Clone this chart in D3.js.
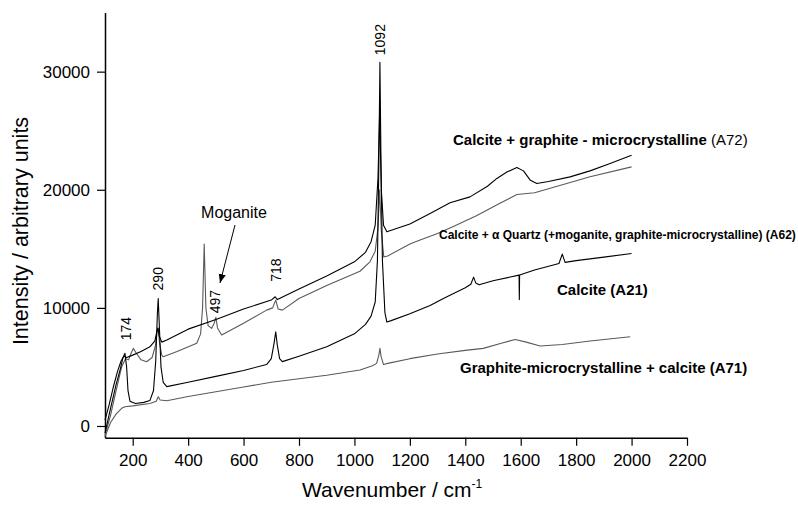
<!DOCTYPE html>
<html>
<head>
<meta charset="utf-8">
<script src="https://d3js.org/d3.v7.min.js"></script>
<style>
body { margin: 0; background: white; }
text { font-family: "Liberation Sans", Arial, sans-serif; }
</style>
</head>
<body>
<div id="container"></div>
<script>
// spectra: [wavenumber, intensity]
let a72 = [
  [100, 500], [115, 1800], [130, 3300], [145, 4600], [158, 5500], [168, 5900], [178, 5800],
  [200, 6000], [230, 6300], [262, 6700], [280, 7200], [287, 8000], [291, 8300], [296, 7600],
  [305, 7100], [323, 7280], [400, 8200], [503, 9030], [600, 9900], [700, 10660], [714, 10940],
  [722, 10700], [800, 11600], [900, 12700], [1000, 13900], [1040, 14700], [1060, 15600],
  [1075, 17000], [1085, 21000], [1091, 26500], [1097, 20000], [1105, 17000], [1117, 16440],
  [1200, 17100], [1273, 17990], [1345, 18900], [1417, 19400], [1480, 20300], [1514, 20960],
  [1550, 21500], [1586, 21890], [1610, 21600], [1635, 20800], [1658, 20530], [1700, 20700],
  [1778, 21090], [1850, 21600], [1920, 22200], [2000, 22930]
];

let a62 = [
  [100, -800], [120, 900], [140, 3000], [160, 5000], [174, 5700], [185, 5600], [195, 6200],
  [202, 6570], [212, 6200], [230, 5600], [250, 5440], [270, 5800], [282, 6800], [288, 8000],
  [292, 8270], [297, 7000], [305, 6000], [310, 5860], [360, 6300], [431, 7000], [445, 7800],
  [452, 10000], [458, 15400], [464, 10000], [472, 8500], [485, 8270], [494, 8700], [500, 9200],
  [506, 8300], [521, 7700], [600, 8700], [683, 9810], [705, 10000], [716, 10660], [725, 9900],
  [740, 9810], [800, 10800], [900, 11900], [1020, 13100], [1056, 13900], [1075, 14800],
  [1085, 16800], [1091, 20000], [1097, 16500], [1106, 14300], [1120, 14400], [1200, 15400],
  [1237, 15750], [1300, 16300], [1357, 16900], [1440, 17800], [1520, 18800], [1586, 19600],
  [1650, 19750], [1766, 20530], [1850, 21100], [2000, 21940]
];

let a21 = [
  [100, -600], [120, 1500], [140, 3500], [155, 4800], [165, 5800], [172, 6150], [178, 5000],
  [183, 3000], [190, 2100], [210, 1900], [240, 2000], [262, 2150], [275, 3000], [283, 5500],
  [289, 9500], [292, 10800], [296, 8500], [302, 5000], [310, 3700], [323, 3330], [400, 3700],
  [500, 4200], [600, 4700], [683, 5200], [700, 5700], [710, 7000], [716, 7980], [722, 6800],
  [730, 5700], [740, 5450], [800, 5900], [900, 6700], [1000, 7800], [1040, 8600], [1060, 9300],
  [1075, 10500], [1083, 14000], [1088, 22000], [1092, 30800], [1096, 22000], [1101, 14000],
  [1110, 9600], [1117, 8800], [1130, 8900], [1200, 9500], [1273, 10200], [1321, 10800],
  [1400, 11700], [1420, 12000], [1430, 12600], [1438, 12100], [1450, 11950], [1500, 12300],
  [1594, 12770], [1595, 10700], [1596, 12780], [1650, 13200], [1738, 13760], [1750, 14550],
  [1760, 13850], [1800, 14000], [1900, 14300], [2000, 14600]
];

let a71 = [
  [100, -900], [120, 300], [140, 1000], [160, 1500], [172, 1630], [200, 1700], [262, 1910],
  [285, 2100], [292, 2480], [299, 2200], [323, 2140], [400, 2500], [500, 2900], [600, 3300],
  [700, 3700], [800, 4000], [900, 4300], [1020, 4740], [1065, 5100], [1080, 5300], [1088, 6000],
  [1092, 6570], [1096, 5900], [1105, 5200], [1120, 5300], [1200, 5700], [1300, 6100],
  [1400, 6400], [1465, 6570], [1530, 7000], [1580, 7330], [1620, 7100], [1670, 6770],
  [1750, 6900], [1850, 7200], [1995, 7550]
];

let xTickLabels = [200, 400, 600, 800, 1000, 1200, 1400, 1600, 1800, 2000, 2200];
let yTickLabels = [0, 10000, 20000, 30000];
let peakLabels = [174, 290, 497, 718, 1092];

let w = 798;
let h = 510;

let viz = d3.select("#container")
  .append("svg")
    .attr("width", w)
    .attr("height", h)
    .style("background-color", "white")
;

let x = d3.scaleLinear().domain([100, 2200]).range([105, 687]);
let y = d3.scaleLinear().domain([-1000, 35000]).range([437.8, 12.6]);

// axes: minor ticks first, then labelled ones
let xAxisGroup = viz.append("g").attr("transform", "translate(0," + y(-1000) + ")");
xAxisGroup.call(d3.axisBottom(x).tickValues(d3.range(100, 2201, 100)).tickSize(5).tickSizeOuter(0).tickFormat(""));
xAxisGroup.call(d3.axisBottom(x).tickValues(xTickLabels).tickSize(8).tickSizeOuter(0).tickPadding(8).tickFormat(d3.format("d")));

let yAxisGroup = viz.append("g").attr("transform", "translate(" + x(100) + ",0)");
yAxisGroup.call(d3.axisLeft(y).tickValues(d3.range(0, 35001, 5000)).tickSize(5).tickSizeOuter(0).tickFormat(""));
yAxisGroup.call(d3.axisLeft(y).tickValues(yTickLabels).tickSize(8).tickSizeOuter(0).tickPadding(7).tickFormat(d3.format("d")));

viz.selectAll(".domain").attr("stroke", "black").attr("stroke-width", 1.5);
viz.selectAll(".tick line").attr("stroke", "black").attr("stroke-width", 1.2);
viz.selectAll(".tick text")
    .attr("fill", "black")
    .style("font-size", "17px")
    .style("font-family", "'Liberation Sans', Arial, sans-serif");

// spectra
let line = d3.line().x(d => x(d[0])).y(d => y(d[1]));

let series = [
  {data: a71, color: "#5a5a5a"},
  {data: a62, color: "#5a5a5a"},
  {data: a21, color: "#000000"},
  {data: a72, color: "#000000"}
];

viz.selectAll(".spectrum").data(series).enter()
  .append("path")
    .classed("spectrum", true)
    .attr("d", d => line(d.data))
    .attr("fill", "none")
    .attr("stroke", d => d.color)
    .attr("stroke-width", 1.1)
    .attr("stroke-linejoin", "round")
;

// peak positions, rotated
let peakLift = {174: 13, 290: 8, 497: 4, 718: 15, 1092: 7};
let peakTop = {174: 6150, 290: 10800, 497: 9200, 718: 10940, 1092: 30800};

viz.selectAll(".peak").data(peakLabels).enter()
  .append("text")
    .classed("peak", true)
    .text(d => d)
    .attr("transform", d => "translate(" + (x(d) + 5) + "," + (y(peakTop[d]) - peakLift[d]) + ") rotate(-90)")
    .attr("text-anchor", "start")
    .style("font-size", "14px")
;

// Moganite arrow
viz.append("defs").append("marker")
    .attr("id", "head")
    .attr("viewBox", "0 0 10 10")
    .attr("refX", 10).attr("refY", 5)
    .attr("markerWidth", 9).attr("markerHeight", 9)
    .attr("markerUnits", "userSpaceOnUse")
    .attr("orient", "auto")
  .append("path")
    .attr("d", "M0,1 L10,5 L0,9 Z")
    .attr("fill", "black");

viz.append("line")
    .attr("x1", 235).attr("y1", 225)
    .attr("x2", 220).attr("y2", 283)
    .attr("stroke", "black")
    .attr("stroke-width", 1)
    .attr("marker-end", "url(#head)");

viz.append("text")
    .text("Moganite")
    .attr("x", 234).attr("y", 218)
    .attr("text-anchor", "middle")
    .style("font-size", "16px");

// series names
let t72 = viz.append("text").attr("x", 453).attr("y", 145).style("font-size", "15px");
t72.append("tspan").text("Calcite + graphite - microcrystalline").style("font-weight", "bold");
t72.append("tspan").text(" (A72)");

viz.append("text")
    .text("Calcite + α Quartz (+moganite, graphite-microcrystalline) (A62)")
    .attr("x", 439).attr("y", 239)
    .style("font-size", "12px")
    .style("font-weight", "bold");

viz.append("text")
    .text("Calcite (A21)")
    .attr("x", 557).attr("y", 295)
    .style("font-size", "15px")
    .style("font-weight", "bold");

viz.append("text")
    .text("Graphite-microcrystalline + calcite (A71)")
    .attr("x", 460).attr("y", 373)
    .style("font-size", "15px")
    .style("font-weight", "bold");

// axis titles
let xt = viz.append("text").attr("x", 302).attr("y", 497).style("font-size", "21px");
xt.append("tspan").text("Wavenumber / cm");
xt.append("tspan").text("-1").attr("dy", -9).style("font-size", "12px");

viz.append("text")
    .text("Intensity / arbitrary units")
    .attr("transform", "translate(28,231) rotate(-90)")
    .attr("text-anchor", "middle")
    .style("font-size", "21.5px");
</script>
</body>
</html>
